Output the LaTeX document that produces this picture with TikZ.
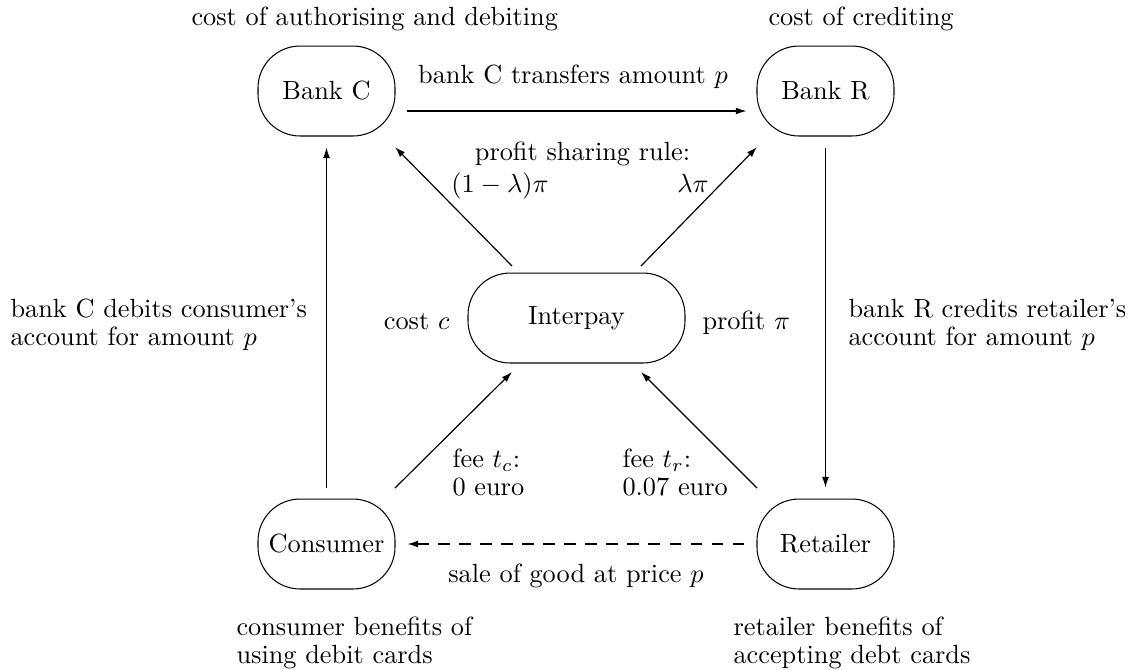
\documentclass[tikz,border=0pt]{standalone}
\usetikzlibrary{calc,arrows.meta}
\begin{document}
\begin{tikzpicture}[x=0.3802pt,y=-0.3802pt,
  agent/.style={draw, rounded corners=16pt, minimum width=52.1pt, minimum height=34.2pt, inner sep=0pt},
  arr/.style={-{Latex[length=4pt,width=2.6pt]}, line width=0.45pt},
  dasharr/.style={arr, dash pattern=on 4.5pt off 3.5pt},
  lbl/.style={inner sep=0pt, align=left, anchor=north west, font=\fontsize{10}{10.6}\selectfont},
  one/.style={inner sep=0pt}]
\useasboundingbox (0,0) rectangle (1135,669);
% agents
\node[agent] (bc) at (326.5,91) {Bank C};
\node[agent] (br) at (825.5,91) {Bank R};
\node[agent, minimum width=82.5pt] (ip) at (576.5,318) {Interpay};
\node[agent] (co) at (326.5,544) {Consumer};
\node[agent] (re) at (825.5,544) {Retailer};
% connectors
\draw[arr] ($(bc.east)+(11,20)$) -- ($(br.west)+(-10,20)$);
\draw[arr] ($(co.north)+(0,-11)$) -- ($(bc.south)+(0,11)$);
\draw[arr] ($(br.south)+(0,11)$) -- ($(re.north)+(0,-11)$);
\draw[dasharr] ($(re.west)+(-12,0)$) -- ($(co.east)+(12,0)$);
\draw[arr] ($(ip.center)+(-64.5,-52)$) -- ($(bc.center)+(68.5,56)$);
\draw[arr] ($(ip.center)+(64.5,-52)$) -- ($(br.center)+(-68.5,56)$);
\draw[arr] ($(co.center)+(68.5,-56)$) -- ($(ip.center)+(-64.5,54)$);
\draw[arr] ($(re.center)+(-68.5,-56)$) -- ($(ip.center)+(64.5,54)$);
% labels
\node[one, anchor=base west] (tl) at (191,25) {cost of authorising and debiting};
\node[one, anchor=base west] (tr) at (768,25) {cost of crediting};
\node[one, anchor=base] (trans) at (573,83) {bank C transfers amount $p$};
\node[one, anchor=base] (psr) at (582.5,160) {profit sharing rule:};
\node[one, anchor=base] (lam1) at (500,192) {$(1-\lambda)\pi$};
\node[one, anchor=base] (lam2) at (693,192) {$\lambda\pi$};
\node[one, anchor=base east] (cost) at (450,329) {cost $c$};
\node[one, anchor=base west] (prof) at (702,329) {profit $\pi$};
\node[lbl] (ld) at (10,298.8) {bank C debits consumer's\\account for amount $p$};
\node[lbl] (rd) at (848,298.8) {bank R credits retailer's\\account for amount $p$};
\node[lbl] (fc) at (452,448.8) {fee $t_c$:\\0 euro};
\node[lbl] (fr) at (622,448.8) {fee $t_r$:\\0.07 euro};
\node[one, anchor=base] (sale) at (576,582) {sale of good at price $p$};
\node[lbl] (cb) at (236,616.8) {consumer benefits of\\using debit cards};
\node[lbl] (rb) at (733,616.8) {retailer benefits of\\accepting debt cards};
\end{tikzpicture}
\end{document}
